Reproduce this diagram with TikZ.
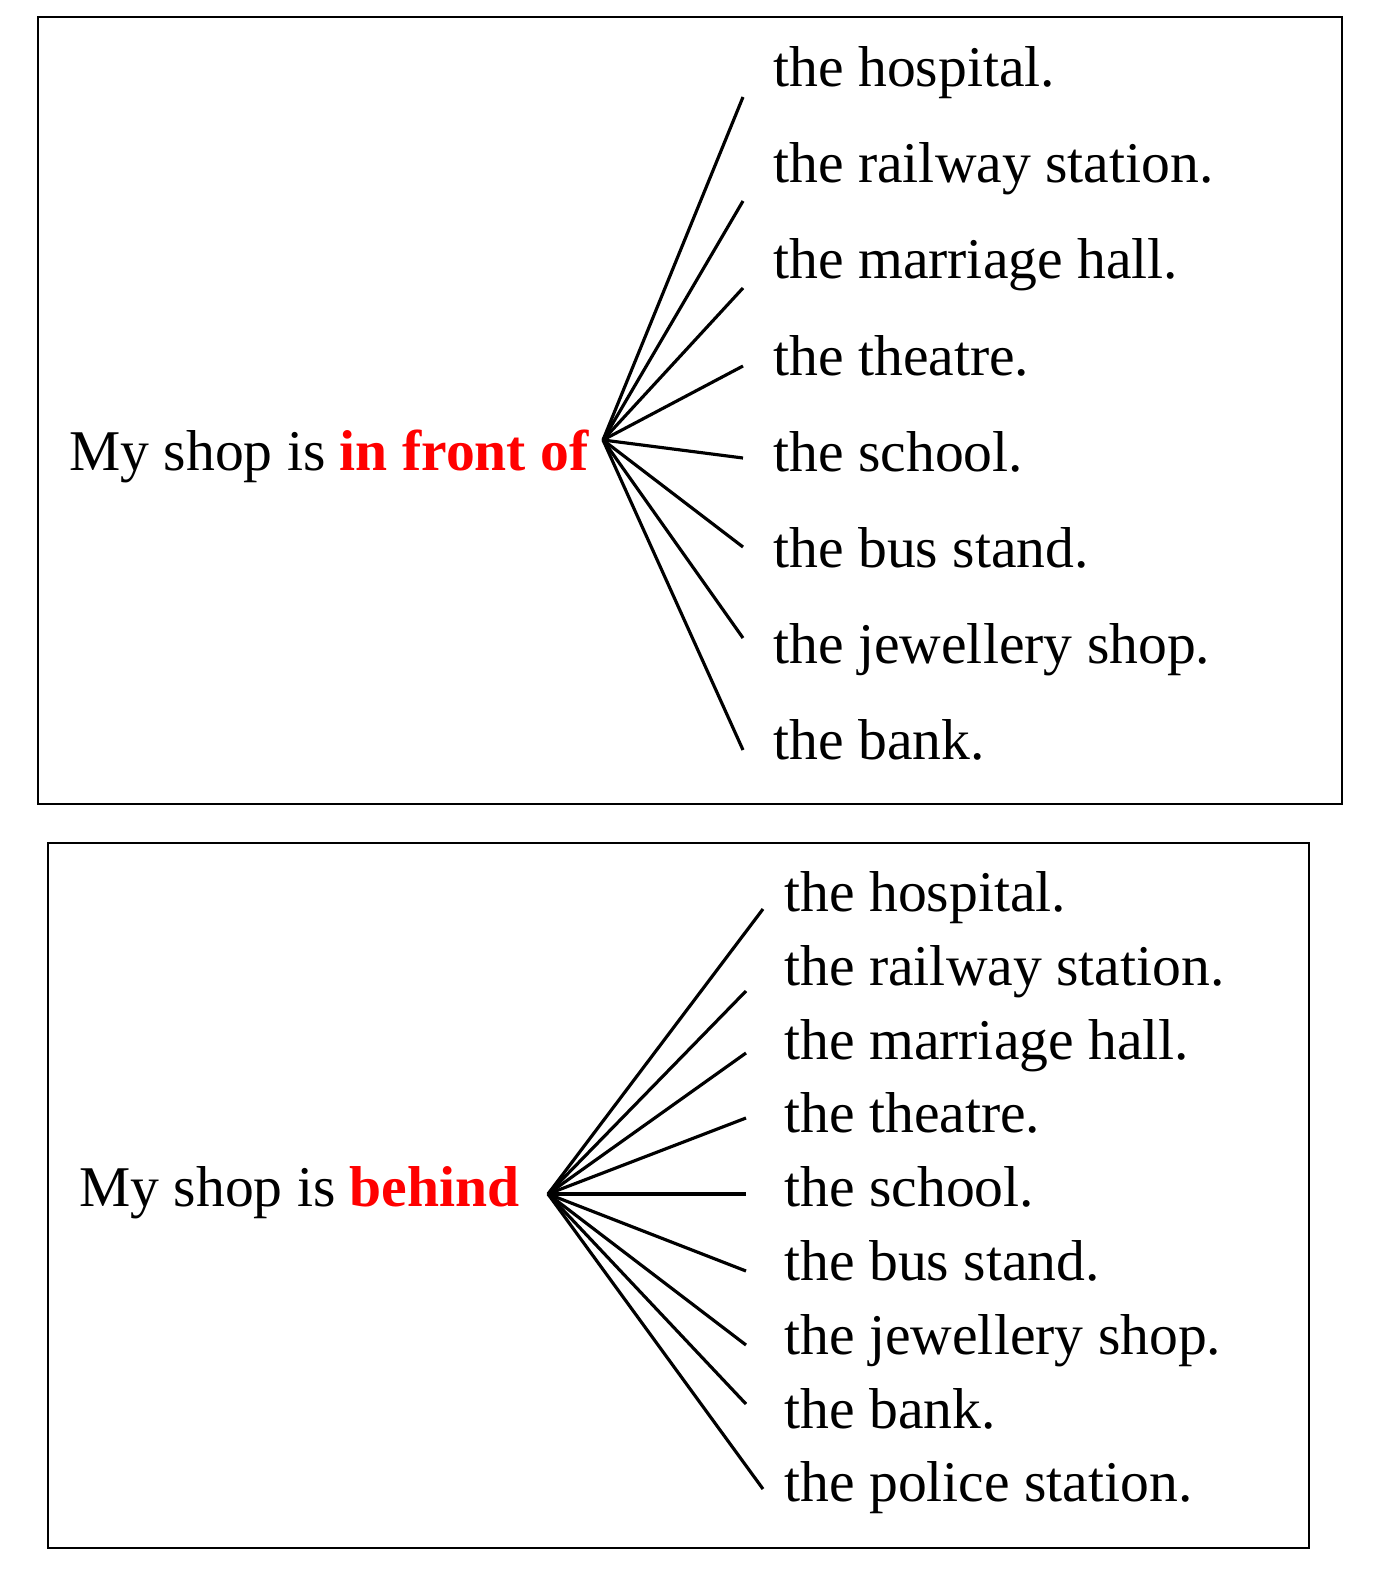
\documentclass[tikz,border=0pt]{standalone}
\usepackage{fontspec}
\setmainfont{Liberation Serif}
\usetikzlibrary{positioning}

\begin{document}
\begin{tikzpicture}[
    x=0.02cm, y=-0.02cm,
    every node/.style={font=\fontsize{32.8}{38}\selectfont},
    frame/.style={draw, line width=1.6pt},
    item/.style={anchor=base west, inner sep=0pt},
    lead/.style={anchor=base west, inner sep=0pt},
    spoke/.style={line width=1.8pt}
]
\useasboundingbox (0,0) rectangle (1380,1596);
% top panel: in front of
\draw[frame] (38,17) rectangle (1342,804);
\node[lead] (frontlead) at (69,470) {My shop is \textcolor{red}{\textbf{in front of}}};
\coordinate (frontjoin) at (603,440);
\node[item] (fhospital) at (773,86) {the hospital.};
\node[item] (frailway) at (773,182) {the railway station.};
\node[item] (fmarriage) at (773,278) {the marriage hall.};
\node[item] (ftheatre) at (773,375) {the theatre.};
\node[item] (fschool) at (773,471) {the school.};
\node[item] (fbus) at (773,567) {the bus stand.};
\node[item] (fjewel) at (773,663) {the jewellery shop.};
\node[item] (fbank) at (773,759) {the bank.};
\coordinate (fe1) at (743,97);
\coordinate (fe2) at (743,201);
\coordinate (fe3) at (743,288);
\coordinate (fe4) at (743,366);
\coordinate (fe5) at (743,458);
\coordinate (fe6) at (743,547);
\coordinate (fe7) at (743,638);
\coordinate (fe8) at (743,750);
\draw[spoke] (frontjoin) -- (fe1);
\draw[spoke] (frontjoin) -- (fe2);
\draw[spoke] (frontjoin) -- (fe3);
\draw[spoke] (frontjoin) -- (fe4);
\draw[spoke] (frontjoin) -- (fe5);
\draw[spoke] (frontjoin) -- (fe6);
\draw[spoke] (frontjoin) -- (fe7);
\draw[spoke] (frontjoin) -- (fe8);
% bottom panel: behind
\draw[frame] (48,843) rectangle (1309,1548);
\node[lead] (behindlead) at (79,1206) {My shop is \textcolor{red}{\textbf{behind}}};
\coordinate (behindjoin) at (548,1194);
\node[item] (bhospital) at (784,911) {the hospital.};
\node[item] (brailway) at (784,985) {the railway station.};
\node[item] (bmarriage) at (784,1059) {the marriage hall.};
\node[item] (btheatre) at (784,1132) {the theatre.};
\node[item] (bschool) at (784,1206) {the school.};
\node[item] (bbus) at (784,1280) {the bus stand.};
\node[item] (bjewel) at (784,1354) {the jewellery shop.};
\node[item] (bbank) at (784,1428) {the bank.};
\node[item] (bpolice) at (784,1501) {the police station.};
\coordinate (be1) at (763,909);
\coordinate (be2) at (746,991);
\coordinate (be3) at (746,1053);
\coordinate (be4) at (746,1118);
\coordinate (be5) at (746,1194);
\coordinate (be6) at (746,1271);
\coordinate (be7) at (746,1345);
\coordinate (be8) at (746,1404);
\coordinate (be9) at (763,1489);
\draw[spoke] (behindjoin) -- (be1);
\draw[spoke] (behindjoin) -- (be2);
\draw[spoke] (behindjoin) -- (be3);
\draw[spoke] (behindjoin) -- (be4);
\draw[spoke] (behindjoin) -- (be5);
\draw[spoke] (behindjoin) -- (be6);
\draw[spoke] (behindjoin) -- (be7);
\draw[spoke] (behindjoin) -- (be8);
\draw[spoke] (behindjoin) -- (be9);
\end{tikzpicture}
\end{document}
